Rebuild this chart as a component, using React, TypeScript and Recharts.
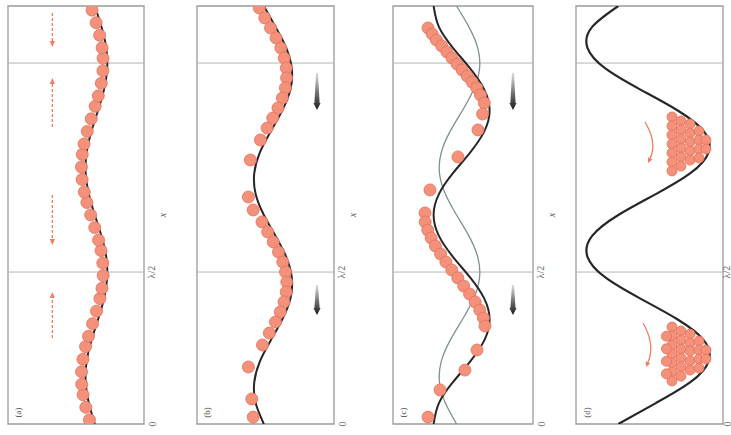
import React from 'react';
import {
  ComposedChart,
  Line,
  Scatter,
  XAxis,
  YAxis,
  ReferenceLine,
  ReferenceArea,
  ReferenceDot,
  Label,
} from 'recharts';

// vertical position along the box, two wavelengths of the potential
const zGrid = [0, 0.1, 0.2, 0.3, 0.4, 0.5, 0.6, 0.7, 0.8, 0.9, 1, 1.1, 1.2, 1.3, 1.4, 1.5, 1.6, 1.7, 1.8, 1.9, 2];

// potential curves (horizontal position, fraction of box width)
const curveA = [0.638, 0.594, 0.571, 0.578, 0.613, 0.662, 0.706, 0.729, 0.722, 0.687, 0.638, 0.594, 0.571, 0.578, 0.613, 0.662, 0.706, 0.729, 0.722, 0.687, 0.638];
const curveB = [0.488, 0.428, 0.418, 0.459, 0.538, 0.622, 0.682, 0.692, 0.651, 0.573, 0.488, 0.428, 0.418, 0.459, 0.538, 0.622, 0.682, 0.692, 0.651, 0.573, 0.488];
const curveC = [0.29, 0.328, 0.428, 0.552, 0.652, 0.69, 0.652, 0.552, 0.428, 0.328, 0.29, 0.328, 0.428, 0.552, 0.652, 0.69, 0.652, 0.552, 0.428, 0.328, 0.29];
const curveCOld = [0.454, 0.374, 0.332, 0.345, 0.408, 0.496, 0.576, 0.618, 0.605, 0.542, 0.454, 0.374, 0.332, 0.345, 0.408, 0.496, 0.576, 0.618, 0.605, 0.542, 0.454];
const curveD = [0.288, 0.543, 0.778, 0.902, 0.87, 0.692, 0.438, 0.202, 0.078, 0.11, 0.288, 0.543, 0.778, 0.902, 0.87, 0.692, 0.438, 0.202, 0.078, 0.11, 0.288];

// particles
const dotZA = [0.02, 0.08, 0.14, 0.19, 0.25, 0.31, 0.37, 0.42, 0.48, 0.54, 0.6, 0.65, 0.71, 0.77, 0.83, 0.88, 0.94, 1.0, 1.06, 1.11, 1.17, 1.23, 1.29, 1.34, 1.4, 1.46, 1.52, 1.57, 1.63, 1.69, 1.75, 1.8, 1.86, 1.92, 1.98];
const dotXA = [0.599, 0.572, 0.552, 0.542, 0.541, 0.551, 0.57, 0.592, 0.622, 0.651, 0.676, 0.691, 0.7, 0.697, 0.684, 0.666, 0.638, 0.608, 0.58, 0.561, 0.545, 0.54, 0.546, 0.559, 0.583, 0.612, 0.641, 0.664, 0.686, 0.698, 0.699, 0.692, 0.674, 0.648, 0.618];

const dotZB = [1.99, 1.943, 1.895, 1.847, 1.799, 1.751, 1.703, 1.656, 1.608, 1.56, 1.512, 1.464, 1.416, 1.359, 1.263, 1.086, 1.024, 0.967, 0.919, 0.871, 0.823, 0.775, 0.727, 0.679, 0.632, 0.584, 0.536, 0.488, 0.435, 0.378, 0.273, 0.12, 0.033];
const dotXB = [0.455, 0.495, 0.537, 0.577, 0.612, 0.637, 0.652, 0.654, 0.645, 0.623, 0.591, 0.553, 0.512, 0.463, 0.39, 0.375, 0.41, 0.474, 0.516, 0.557, 0.595, 0.626, 0.646, 0.655, 0.651, 0.635, 0.608, 0.573, 0.528, 0.478, 0.375, 0.4, 0.41];

const dotZC = [1.895, 1.866, 1.837, 1.809, 1.78, 1.751, 1.722, 1.694, 1.665, 1.636, 1.608, 1.574, 1.536, 1.483, 1.407, 1.278, 1.12, 1.01, 0.967, 0.928, 0.89, 0.852, 0.813, 0.775, 0.737, 0.699, 0.66, 0.622, 0.584, 0.545, 0.507, 0.469, 0.354, 0.258, 0.163, 0.033];
const dotXC = [0.25, 0.28, 0.31, 0.348, 0.385, 0.422, 0.458, 0.494, 0.53, 0.565, 0.598, 0.625, 0.652, 0.64, 0.607, 0.464, 0.264, 0.229, 0.23, 0.248, 0.272, 0.303, 0.34, 0.378, 0.42, 0.463, 0.505, 0.547, 0.587, 0.62, 0.646, 0.657, 0.6, 0.514, 0.336, 0.25];

const dotZD = [
  1.469, 1.426, 1.383, 1.34, 1.297, 1.254, 1.211,
  1.45, 1.407, 1.364, 1.321, 1.278, 1.234,
  1.435, 1.392, 1.349, 1.306, 1.263,
  1.402, 1.359, 1.316, 1.273,
  1.359, 1.316,
  0.464, 0.421, 0.378, 0.335, 0.292, 0.249, 0.206,
  0.445, 0.402, 0.359, 0.316, 0.273, 0.229,
  0.43, 0.387, 0.349, 0.301, 0.258,
  0.397, 0.354, 0.311, 0.268,
  0.354, 0.311,
  0.42, 0.36, 0.3, 0.24,
];
const dotXD = [
  0.653, 0.653, 0.653, 0.653, 0.653, 0.653, 0.653,
  0.714, 0.714, 0.714, 0.714, 0.714, 0.714,
  0.776, 0.776, 0.776, 0.776, 0.776,
  0.837, 0.837, 0.837, 0.837,
  0.884, 0.884,
  0.653, 0.653, 0.653, 0.653, 0.653, 0.653, 0.653,
  0.714, 0.714, 0.714, 0.714, 0.714, 0.714,
  0.776, 0.776, 0.776, 0.776, 0.776,
  0.837, 0.837, 0.837, 0.837,
  0.884, 0.884,
  0.615, 0.615, 0.615, 0.615,
];

// annotations: [x, zFrom, zTo] or [x1, z1, x2, z2]
const driftArrowsA = [[0.326, 1.967, 1.804], [0.326, 1.421, 1.656], [0.326, 1.096, 0.856], [0.326, 0.411, 0.632]];
const pushArrowsB = [[0.876, 1.679, 1.502], [0.876, 0.665, 0.522]];
const pushArrowsC = [[0.857, 1.679, 1.502], [0.857, 0.665, 0.522]];
const swirlsD = [[0.469, 1.445, 0.49, 1.249], [0.456, 0.483, 0.476, 0.273]];

const gridLevels = [0.727, 1.727];
const axisTicks = [0, 0.727];
const tickNames = ['0', 'λ/2'];

const ORANGE = '#ef7d62';
const CHART_H = 435;
const Y_AXIS_W = 32;

const pair = (xs: number[], zs: number[]) => xs.map((x, i) => ({ x, z: zs[i] }));

const rotText = (x: number, y: number, txt: string, size: number, italic = false) => (
  <text
    x={x}
    y={y}
    transform={`rotate(-90 ${x} ${y})`}
    textAnchor="middle"
    dominantBaseline="central"
    fontSize={size}
    fontStyle={italic ? 'italic' : 'normal'}
    fontFamily="Liberation Serif"
    fill="#666"
  >
    {txt}
  </text>
);

const makeSideTick = (dx: number) => (props: any) => {
  const { x, y, payload } = props;
  const idx = axisTicks.indexOf(payload.value);
  return rotText(x + dx, y, tickNames[idx] ?? '', 10);
};

const AxisName = (props: any) => {
  const vb = props.viewBox;
  return rotText(vb.x + 18, vb.y + vb.height / 2, 'x', 10, true);
};

const DriftArrow = (p: any) => {
  const { x1, y1, x2, y2 } = p;
  const d = y2 > y1 ? 1 : -1;
  return (
    <g>
      <line x1={x1} y1={y1} x2={x2} y2={y2 - d * 4} stroke={ORANGE} strokeWidth={1.3} strokeDasharray="3 2" />
      <path d={`M${x2},${y2} L${x2 - 2.6},${y2 - d * 6} L${x2 + 2.6},${y2 - d * 6} Z`} fill={ORANGE} />
    </g>
  );
};

const PushArrow = (p: any) => {
  const { x1, y1, y2 } = p;
  const top = Math.min(y1, y2);
  const bot = Math.max(y1, y2);
  const x = x1;
  return (
    <path
      d={`M${x - 1},${top} L${x + 1},${top} L${x + 2.6},${bot - 7} L${x + 3.6},${bot - 7} L${x},${bot} L${x - 3.6},${bot - 7} L${x - 2.6},${bot - 7} Z`}
      fill="url(#pushFade)"
    />
  );
};

const Swirl = (p: any) => {
  const { x1, y1, x2, y2 } = p;
  const cx = (x1 + x2) / 2 + 11;
  const cy = (y1 + y2) / 2;
  const dx = x2 - cx;
  const dy = y2 - cy;
  const L = Math.hypot(dx, dy) || 1;
  const ux = dx / L;
  const uy = dy / L;
  const bx = x2 - ux * 5;
  const by = y2 - uy * 5;
  return (
    <g>
      <path d={`M${x1},${y1} Q${cx},${cy} ${bx},${by}`} fill="none" stroke={ORANGE} strokeWidth={1.3} />
      <path d={`M${x2},${y2} L${bx - uy * 2.5},${by + ux * 2.5} L${bx + uy * 2.5},${by - ux * 2.5} Z`} fill={ORANGE} />
    </g>
  );
};

interface CurveSpec {
  xs: number[];
  color: string;
  width: number;
}

interface PanelProps {
  left: number;
  boxWidth: number;
  tag: string;
  curves: CurveSpec[];
  dots: { x: number; z: number }[];
  dotR: number;
  drift?: number[][];
  push?: number[][];
  swirl?: number[][];
  tickDx?: number;
  showName?: boolean;
}

function Panel({
  left,
  boxWidth,
  tag,
  curves,
  dots,
  dotR,
  drift = [],
  push = [],
  swirl = [],
  tickDx = 0,
  showName = true,
}: PanelProps) {
  const padL = 4;
  return (
    <div style={{ position: 'absolute', left: left - padL, top: 0 }}>
      <ComposedChart
        width={boxWidth + padL + Y_AXIS_W}
        height={CHART_H}
        margin={{ top: 6, right: 0, bottom: 11, left: padL }}
      >
        <defs>
          <linearGradient id="pushFade" x1="0" y1="0" x2="0" y2="1">
            <stop offset="0" stopColor="#dcdcdc" />
            <stop offset="0.6" stopColor="#666" />
            <stop offset="1" stopColor="#1b1b1b" />
          </linearGradient>
        </defs>
        <XAxis type="number" dataKey="x" domain={[0, 1]} hide allowDataOverflow />
        <YAxis
          type="number"
          dataKey="z"
          domain={[0, 2]}
          orientation="right"
          width={Y_AXIS_W}
          ticks={axisTicks}
          tick={makeSideTick(tickDx)}
          axisLine={false}
          tickLine={false}
          allowDataOverflow
        >
          {showName && <Label content={AxisName} />}
        </YAxis>
        <ReferenceArea x1={0} x2={1} y1={0} y2={2} fill="none" fillOpacity={0} stroke="#9a9a9a" strokeWidth={1.3} />
        {gridLevels.map((g) => (
          <ReferenceLine key={g} y={g} stroke="#b4b4b4" strokeWidth={1} />
        ))}
        {drift.map((a, i) => (
          <ReferenceLine key={`d${i}`} segment={[{ x: a[0], y: a[1] }, { x: a[0], y: a[2] }]} shape={DriftArrow} />
        ))}
        {push.map((a, i) => (
          <ReferenceLine key={`p${i}`} segment={[{ x: a[0], y: a[1] }, { x: a[0], y: a[2] }]} shape={PushArrow} />
        ))}
        {swirl.map((a, i) => (
          <ReferenceLine key={`s${i}`} segment={[{ x: a[0], y: a[1] }, { x: a[2], y: a[3] }]} shape={Swirl} />
        ))}
        <Scatter
          data={dots}
          isAnimationActive={false}
          shape={(s: any) => (
            <circle cx={s.cx} cy={s.cy} r={dotR} fill="#f3917a" stroke="#e2705a" strokeWidth={0.8} />
          )}
        />
        {curves.map((c, i) => (
          <Line
            key={i}
            data={pair(c.xs, zGrid)}
            dataKey="z"
            type="natural"
            dot={false}
            stroke={c.color}
            strokeWidth={c.width}
            isAnimationActive={false}
          />
        ))}
        <ReferenceDot
          x={0.075}
          y={0.055}
          r={0}
          shape={(s: any) => (
            <text
              x={s.cx}
              y={s.cy}
              transform={`rotate(-90 ${s.cx} ${s.cy})`}
              textAnchor="middle"
              dominantBaseline="central"
              fontSize={9}
              fontFamily="Liberation Serif"
              fill="#555"
            >
              {tag}
            </text>
          )}
        />
      </ComposedChart>
    </div>
  );
}

export default function App() {
  return (
    <div
      style={{
        position: 'fixed',
        left: 0,
        top: 0,
        width: 731,
        height: 435,
        background: '#fff',
        overflow: 'hidden',
      }}
    >
      <Panel
        left={8}
        boxWidth={136}
        tag="(a)"
        curves={[{ xs: curveA, color: '#262626', width: 2 }]}
        dots={pair(dotXA, dotZA)}
        dotR={6}
        drift={driftArrowsA}
      />
      <Panel
        left={197}
        boxWidth={137}
        tag="(b)"
        curves={[{ xs: curveB, color: '#262626', width: 2 }]}
        dots={pair(dotXB, dotZB)}
        dotR={6}
        push={pushArrowsB}
      />
      <Panel
        left={393}
        boxWidth={140}
        tag="(c)"
        curves={[
          { xs: curveCOld, color: '#7f9090', width: 1.3 },
          { xs: curveC, color: '#262626', width: 2 },
        ]}
        dots={pair(dotXC, dotZC)}
        dotR={6}
        push={pushArrowsC}
      />
      <Panel
        left={576}
        boxWidth={147}
        tag="(d)"
        curves={[{ xs: curveD, color: '#262626', width: 2.2 }]}
        dots={pair(dotXD, dotZD)}
        dotR={5}
        swirl={swirlsD}
        tickDx={-4}
        showName={false}
      />
    </div>
  );
}
